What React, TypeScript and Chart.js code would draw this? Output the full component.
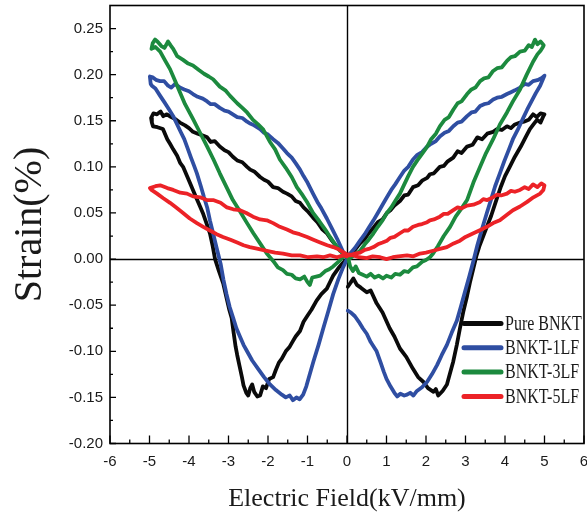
import React, { useEffect, useRef } from "react";
import { Chart, registerables } from "chart.js";

Chart.register(...registerables);

const xTickValues = [-6, -5, -4, -3, -2, -1, 0, 1, 2, 3, 4, 5, 6];
const yTickValues = [-0.2, -0.15, -0.1, -0.05, 0, 0.05, 0.1, 0.15, 0.2, 0.25];
const seriesLabels = ["Pure BNKT", "BNKT-1LF", "BNKT-3LF", "BNKT-5LF"];
const seriesColors = ["#0a0a0a", "#2f4ea2", "#1c8a3e", "#ec2227"];

// [E (kV/mm), Strain (%)]
const pureBNKT: [number, number][] = [
  [0.02, -0.03], [0.1, -0.025], [0.16, -0.021], [0.25, -0.028], [0.35, -0.031], [0.5, -0.036], [0.6, -0.034], [0.75, -0.048],
  [0.9, -0.058], [1.08, -0.075], [1.2, -0.084], [1.34, -0.097], [1.5, -0.106], [1.67, -0.119], [1.8, -0.128], [1.93, -0.133],
  [2.05, -0.14], [2.19, -0.144], [2.25, -0.141], [2.31, -0.148], [2.42, -0.143], [2.53, -0.136], [2.62, -0.122], [2.69, -0.111],
  [2.78, -0.093], [2.86, -0.075], [2.95, -0.056], [3.04, -0.04], [3.12, -0.024], [3.2, -0.01], [3.28, 0.004], [3.36, 0.015],
  [3.45, 0.025], [3.55, 0.036], [3.65, 0.047], [3.78, 0.064], [3.9, 0.079], [4.0, 0.09], [4.12, 0.1], [4.25, 0.111],
  [4.4, 0.122], [4.52, 0.132], [4.63, 0.141], [4.72, 0.146], [4.81, 0.151], [4.9, 0.148], [4.97, 0.155], [5.0, 0.157],
  [4.9, 0.158], [4.8, 0.154], [4.71, 0.157], [4.6, 0.151], [4.48, 0.149], [4.38, 0.148], [4.25, 0.146], [4.15, 0.142],
  [4.05, 0.144], [3.92, 0.14], [3.8, 0.141], [3.7, 0.138], [3.55, 0.136], [3.42, 0.13], [3.3, 0.132], [3.18, 0.124],
  [3.04, 0.122], [2.9, 0.115], [2.8, 0.117], [2.69, 0.11], [2.55, 0.106], [2.45, 0.101], [2.35, 0.1], [2.2, 0.093],
  [2.1, 0.092], [2.03, 0.088], [1.9, 0.085], [1.8, 0.08], [1.67, 0.078], [1.55, 0.07], [1.45, 0.069], [1.34, 0.063],
  [1.2, 0.058], [1.1, 0.053], [1.01, 0.05], [0.9, 0.043], [0.78, 0.04], [0.67, 0.034], [0.55, 0.028], [0.45, 0.022],
  [0.33, 0.017], [0.2, 0.01], [0.08, 0.005], [0.0, 0.004],
  [-0.1, 0.006], [-0.25, 0.013], [-0.38, 0.02], [-0.51, 0.028], [-0.62, 0.032], [-0.75, 0.04], [-0.86, 0.045], [-1.0, 0.052],
  [-1.1, 0.056], [-1.19, 0.061], [-1.3, 0.063], [-1.4, 0.068], [-1.52, 0.071], [-1.62, 0.073], [-1.75, 0.077], [-1.87, 0.078],
  [-2.0, 0.084], [-2.1, 0.086], [-2.2, 0.089], [-2.35, 0.095], [-2.45, 0.097], [-2.53, 0.1], [-2.65, 0.105], [-2.78, 0.107],
  [-2.89, 0.111], [-3.0, 0.116], [-3.1, 0.118], [-3.22, 0.122], [-3.35, 0.128], [-3.45, 0.127], [-3.54, 0.132], [-3.65, 0.134],
  [-3.78, 0.136], [-3.9, 0.138], [-4.0, 0.142], [-4.1, 0.145], [-4.23, 0.148], [-4.35, 0.152], [-4.45, 0.154], [-4.56, 0.157],
  [-4.65, 0.155], [-4.72, 0.16], [-4.81, 0.157], [-4.9, 0.158], [-4.96, 0.153], [-4.94, 0.148],
  [-4.91, 0.144], [-4.8, 0.143], [-4.66, 0.141], [-4.55, 0.13], [-4.48, 0.125], [-4.4, 0.119], [-4.3, 0.112], [-4.22, 0.104],
  [-4.15, 0.1], [-4.05, 0.09], [-3.98, 0.083], [-3.9, 0.075], [-3.8, 0.065], [-3.72, 0.057], [-3.65, 0.05], [-3.55, 0.038],
  [-3.47, 0.028], [-3.4, 0.014], [-3.34, 0.0], [-3.25, -0.012], [-3.13, -0.027], [-3.05, -0.042], [-2.98, -0.055], [-2.92, -0.064],
  [-2.87, -0.08], [-2.82, -0.095], [-2.78, -0.104], [-2.72, -0.116], [-2.66, -0.128], [-2.62, -0.137], [-2.55, -0.145], [-2.5, -0.148],
  [-2.45, -0.14], [-2.4, -0.136], [-2.35, -0.144], [-2.27, -0.149], [-2.2, -0.148], [-2.13, -0.138], [-2.05, -0.14], [-1.97, -0.13],
  [-1.87, -0.128], [-1.8, -0.12], [-1.72, -0.112], [-1.65, -0.108], [-1.55, -0.1], [-1.45, -0.095], [-1.37, -0.089], [-1.3, -0.084],
  [-1.19, -0.078], [-1.1, -0.068], [-1.01, -0.062], [-0.9, -0.055], [-0.77, -0.045], [-0.65, -0.038], [-0.51, -0.032], [-0.42, -0.024],
  [-0.35, -0.018], [-0.22, -0.01], [-0.1, -0.004], [0.0, 0.0],
];

const bnkt1LF: [number, number][] = [
  [0.02, -0.056], [0.1, -0.058], [0.2, -0.062], [0.3, -0.068], [0.4, -0.075], [0.5, -0.081], [0.6, -0.09], [0.75, -0.1],
  [0.85, -0.112], [0.93, -0.122], [1.0, -0.13], [1.1, -0.138], [1.2, -0.145], [1.27, -0.149], [1.35, -0.146], [1.45, -0.148],
  [1.52, -0.147], [1.6, -0.145], [1.68, -0.148], [1.77, -0.143], [1.9, -0.139], [2.03, -0.133], [2.15, -0.125], [2.28, -0.115],
  [2.4, -0.104], [2.53, -0.093], [2.65, -0.08], [2.78, -0.067], [2.88, -0.052], [2.99, -0.035], [3.1, -0.018], [3.2, -0.002],
  [3.3, 0.015], [3.42, 0.033], [3.54, 0.05], [3.65, 0.065], [3.75, 0.079], [3.87, 0.093], [3.98, 0.106], [4.1, 0.119],
  [4.2, 0.13], [4.32, 0.14], [4.45, 0.152], [4.56, 0.162], [4.67, 0.171], [4.78, 0.18], [4.89, 0.188], [4.96, 0.195], [5.0, 0.199],
  [4.92, 0.196], [4.82, 0.194], [4.71, 0.193], [4.6, 0.189], [4.5, 0.19], [4.38, 0.186], [4.25, 0.183], [4.15, 0.181],
  [4.05, 0.179], [3.92, 0.176], [3.8, 0.175], [3.7, 0.173], [3.58, 0.169], [3.47, 0.168], [3.37, 0.166], [3.25, 0.16],
  [3.15, 0.159], [3.04, 0.155], [2.9, 0.149], [2.8, 0.148], [2.69, 0.144], [2.58, 0.139], [2.47, 0.137], [2.35, 0.133],
  [2.25, 0.128], [2.13, 0.125], [2.03, 0.122], [1.9, 0.116], [1.78, 0.113], [1.67, 0.108], [1.55, 0.1], [1.45, 0.096],
  [1.34, 0.089], [1.22, 0.081], [1.12, 0.075], [1.01, 0.067], [0.9, 0.059], [0.78, 0.05], [0.67, 0.042], [0.55, 0.034],
  [0.45, 0.027], [0.33, 0.02], [0.2, 0.012], [0.08, 0.006], [0.0, 0.003],
  [-0.1, 0.008], [-0.25, 0.022], [-0.38, 0.033], [-0.51, 0.044], [-0.65, 0.055], [-0.75, 0.062], [-0.86, 0.071], [-1.0, 0.083],
  [-1.1, 0.09], [-1.19, 0.097], [-1.3, 0.104], [-1.4, 0.11], [-1.52, 0.115], [-1.62, 0.12], [-1.75, 0.126], [-1.87, 0.13],
  [-2.0, 0.135], [-2.1, 0.137], [-2.2, 0.141], [-2.35, 0.145], [-2.45, 0.147], [-2.53, 0.149], [-2.65, 0.153], [-2.78, 0.154],
  [-2.89, 0.157], [-3.0, 0.16], [-3.1, 0.161], [-3.22, 0.164], [-3.35, 0.168], [-3.45, 0.168], [-3.54, 0.171], [-3.65, 0.174],
  [-3.78, 0.176], [-3.9, 0.179], [-4.0, 0.182], [-4.12, 0.184], [-4.23, 0.186], [-4.35, 0.19], [-4.45, 0.186], [-4.53, 0.188],
  [-4.63, 0.193], [-4.73, 0.193], [-4.82, 0.194], [-4.92, 0.197], [-4.99, 0.198], [-4.97, 0.19],
  [-4.94, 0.188], [-4.85, 0.185], [-4.73, 0.177], [-4.62, 0.17], [-4.5, 0.162], [-4.4, 0.155], [-4.3, 0.146], [-4.2, 0.137],
  [-4.12, 0.13], [-4.05, 0.122], [-3.95, 0.11], [-3.87, 0.101], [-3.8, 0.093], [-3.7, 0.079], [-3.62, 0.067], [-3.54, 0.056],
  [-3.47, 0.042], [-3.39, 0.028], [-3.3, 0.012], [-3.2, -0.005], [-3.13, -0.022], [-3.05, -0.038], [-2.97, -0.052], [-2.88, -0.064],
  [-2.8, -0.075], [-2.7, -0.085], [-2.62, -0.093], [-2.53, -0.1], [-2.4, -0.11], [-2.25, -0.119], [-2.1, -0.128], [-1.95, -0.136],
  [-1.8, -0.142], [-1.65, -0.147], [-1.55, -0.15], [-1.45, -0.148], [-1.37, -0.153], [-1.28, -0.15], [-1.2, -0.152], [-1.11, -0.147],
  [-1.03, -0.138], [-0.95, -0.126], [-0.85, -0.111], [-0.72, -0.093], [-0.6, -0.075], [-0.47, -0.056], [-0.35, -0.038], [-0.22, -0.022],
  [-0.1, -0.009], [0.0, 0.0],
];

const bnkt3LF: [number, number][] = [
  [0.02, 0.003], [0.08, -0.008], [0.15, -0.013], [0.22, -0.008], [0.3, -0.015], [0.4, -0.017], [0.5, -0.019], [0.6, -0.016],
  [0.7, -0.02], [0.8, -0.018], [0.91, -0.021], [1.0, -0.018], [1.12, -0.02], [1.22, -0.016], [1.34, -0.017], [1.45, -0.013],
  [1.55, -0.014], [1.67, -0.009], [1.77, -0.008], [1.9, -0.003], [2.0, -0.001], [2.1, 0.002], [2.18, 0.006], [2.3, 0.014],
  [2.45, 0.025], [2.61, 0.035], [2.75, 0.046], [2.9, 0.055], [3.04, 0.064], [3.2, 0.083], [3.37, 0.1], [3.52, 0.115],
  [3.7, 0.13], [3.87, 0.146], [4.05, 0.159], [4.2, 0.171], [4.38, 0.184], [4.55, 0.2], [4.71, 0.214], [4.82, 0.222],
  [4.9, 0.226], [4.96, 0.23], [4.98, 0.232],
  [4.9, 0.236], [4.82, 0.233], [4.76, 0.238], [4.68, 0.23], [4.6, 0.232], [4.5, 0.226], [4.38, 0.225], [4.25, 0.22],
  [4.15, 0.219], [4.05, 0.215], [3.92, 0.208], [3.8, 0.207], [3.7, 0.204], [3.58, 0.197], [3.47, 0.196], [3.37, 0.193],
  [3.25, 0.186], [3.15, 0.184], [3.04, 0.179], [2.9, 0.171], [2.8, 0.169], [2.69, 0.162], [2.58, 0.154], [2.47, 0.151],
  [2.35, 0.144], [2.25, 0.136], [2.13, 0.13], [2.03, 0.122], [1.9, 0.114], [1.78, 0.107], [1.67, 0.1], [1.55, 0.09],
  [1.45, 0.081], [1.34, 0.071], [1.22, 0.063], [1.12, 0.056], [1.01, 0.05], [0.9, 0.042], [0.78, 0.035], [0.67, 0.028],
  [0.55, 0.021], [0.45, 0.016], [0.33, 0.009], [0.2, 0.005], [0.08, 0.001], [0.0, 0.003],
  [-0.18, 0.009], [-0.3, 0.016], [-0.43, 0.024], [-0.55, 0.032], [-0.7, 0.041], [-0.86, 0.05], [-1.0, 0.061], [-1.12, 0.069],
  [-1.27, 0.078], [-1.4, 0.089], [-1.55, 0.099], [-1.7, 0.108], [-1.82, 0.119], [-1.95, 0.127], [-2.05, 0.135], [-2.13, 0.141],
  [-2.25, 0.146], [-2.38, 0.151], [-2.53, 0.159], [-2.65, 0.164], [-2.78, 0.169], [-2.96, 0.177], [-3.08, 0.183], [-3.22, 0.187],
  [-3.39, 0.195], [-3.5, 0.198], [-3.62, 0.201], [-3.75, 0.205], [-3.9, 0.21], [-4.02, 0.212], [-4.15, 0.216], [-4.3, 0.22],
  [-4.4, 0.228], [-4.47, 0.232], [-4.53, 0.236], [-4.62, 0.229], [-4.7, 0.231], [-4.8, 0.236], [-4.86, 0.238], [-4.92, 0.234],
  [-4.95, 0.228],
  [-4.85, 0.23], [-4.73, 0.225], [-4.6, 0.215], [-4.48, 0.206], [-4.35, 0.193], [-4.23, 0.181], [-4.1, 0.168], [-3.9, 0.152],
  [-3.72, 0.137], [-3.54, 0.122], [-3.38, 0.108], [-3.22, 0.093], [-3.05, 0.078], [-2.89, 0.064], [-2.7, 0.051], [-2.53, 0.039],
  [-2.37, 0.028], [-2.2, 0.017], [-2.03, 0.006], [-1.87, -0.002], [-1.75, -0.009], [-1.62, -0.012], [-1.52, -0.016], [-1.4, -0.017],
  [-1.3, -0.021], [-1.19, -0.022], [-1.08, -0.019], [-1.0, -0.025], [-0.94, -0.028], [-0.88, -0.02], [-0.78, -0.019], [-0.68, -0.018],
  [-0.55, -0.013], [-0.45, -0.011], [-0.35, -0.008], [-0.22, -0.003], [-0.1, 0.002], [0.0, 0.004],
];

const bnkt5LF: [number, number][] = [
  [0.05, 0.005], [0.16, 0.004], [0.3, 0.002], [0.5, 0.001], [0.65, 0.003], [0.84, 0.002], [1.0, 0.0], [1.16, 0.002],
  [1.3, 0.003], [1.52, 0.004], [1.68, 0.003], [1.85, 0.006], [2.0, 0.007], [2.18, 0.009], [2.35, 0.011], [2.53, 0.013],
  [2.7, 0.017], [2.86, 0.02], [3.0, 0.024], [3.2, 0.028], [3.35, 0.031], [3.54, 0.035], [3.7, 0.039], [3.87, 0.042],
  [4.05, 0.048], [4.2, 0.053], [4.38, 0.057], [4.56, 0.062], [4.72, 0.067], [4.89, 0.071], [4.97, 0.075], [5.0, 0.08],
  [4.92, 0.082], [4.82, 0.078], [4.71, 0.081], [4.6, 0.076], [4.5, 0.078], [4.38, 0.075], [4.25, 0.073], [4.15, 0.074],
  [4.05, 0.071], [3.9, 0.069], [3.8, 0.07], [3.7, 0.067], [3.55, 0.064], [3.45, 0.065], [3.37, 0.062], [3.2, 0.059],
  [3.04, 0.058], [2.9, 0.055], [2.8, 0.056], [2.69, 0.053], [2.55, 0.049], [2.45, 0.049], [2.35, 0.046], [2.2, 0.043],
  [2.1, 0.042], [2.03, 0.04], [1.9, 0.038], [1.8, 0.037], [1.67, 0.035], [1.55, 0.031], [1.45, 0.031], [1.34, 0.028],
  [1.2, 0.024], [1.1, 0.023], [1.01, 0.02], [0.9, 0.018], [0.78, 0.016], [0.67, 0.013], [0.55, 0.011], [0.45, 0.01],
  [0.33, 0.007], [0.2, 0.006], [0.08, 0.004], [0.0, 0.005],
  [-0.12, 0.008], [-0.23, 0.011], [-0.35, 0.013], [-0.5, 0.015], [-0.68, 0.018], [-0.85, 0.021], [-1.01, 0.024], [-1.2, 0.027],
  [-1.37, 0.029], [-1.52, 0.032], [-1.7, 0.035], [-1.87, 0.039], [-2.03, 0.042], [-2.2, 0.043], [-2.38, 0.046], [-2.55, 0.05],
  [-2.71, 0.053], [-2.88, 0.054], [-3.04, 0.056], [-3.2, 0.061], [-3.39, 0.064], [-3.55, 0.064], [-3.72, 0.067], [-3.9, 0.068],
  [-4.05, 0.071], [-4.22, 0.072], [-4.4, 0.075], [-4.55, 0.077], [-4.73, 0.08], [-4.85, 0.079], [-4.99, 0.077],
  [-4.95, 0.075], [-4.81, 0.071], [-4.65, 0.066], [-4.48, 0.061], [-4.3, 0.055], [-4.15, 0.05], [-3.98, 0.044], [-3.8, 0.039],
  [-3.64, 0.035], [-3.47, 0.031], [-3.3, 0.027], [-3.14, 0.024], [-2.95, 0.021], [-2.78, 0.018], [-2.62, 0.015], [-2.46, 0.013],
  [-2.25, 0.011], [-2.03, 0.009], [-1.82, 0.007], [-1.62, 0.006], [-1.4, 0.004], [-1.19, 0.004], [-0.98, 0.002], [-0.76, 0.003],
  [-0.6, 0.002], [-0.43, 0.004], [-0.25, 0.002], [-0.1, 0.004], [0.0, 0.003],
];

const seriesData = [pureBNKT, bnkt1LF, bnkt3LF, bnkt5LF];
const drawOrder = [3, 2, 1, 0];

const framePlugin = {
  id: "frameTicks",
  beforeDatasetsDraw(chart: any) {
    const { ctx, chartArea } = chart;
    const xs = chart.scales.x;
    const ys = chart.scales.y;
    ctx.save();
    ctx.strokeStyle = "#000";
    ctx.lineWidth = 1.4;
    const x0 = Math.round(xs.getPixelForValue(0)) + 0.5;
    const y0 = Math.round(ys.getPixelForValue(0)) + 0.5;
    ctx.beginPath();
    ctx.moveTo(x0, chartArea.top);
    ctx.lineTo(x0, chartArea.bottom);
    ctx.moveTo(chartArea.left, y0);
    ctx.lineTo(chartArea.right, y0);
    ctx.stroke();
    ctx.restore();
  },
  afterDatasetsDraw(chart: any) {
    const { ctx, chartArea } = chart;
    const xs = chart.scales.x;
    const ys = chart.scales.y;
    const { left, right, top, bottom } = chartArea;
    ctx.save();
    ctx.strokeStyle = "#000";
    ctx.lineWidth = 1.6;
    ctx.strokeRect(left, top, right - left, bottom - top);
    ctx.lineWidth = 1.3;
    ctx.beginPath();
    const yt = ys.ticks.map((t: any) => t.value);
    yt.forEach((v: number, i: number) => {
      const p = ys.getPixelForValue(v);
      ctx.moveTo(left, p);
      ctx.lineTo(left + 6, p);
      const nv = i < yt.length - 1 ? (v + yt[i + 1]) / 2 : v + (v - yt[i - 1]) / 2;
      const np = ys.getPixelForValue(nv);
      if (np > top + 2) {
        ctx.moveTo(left, np);
        ctx.lineTo(left + 3, np);
      }
    });
    const xt = xs.ticks.map((t: any) => t.value);
    xt.forEach((v: number, i: number) => {
      const p = xs.getPixelForValue(v);
      ctx.moveTo(p, bottom);
      ctx.lineTo(p, bottom - 8);
      if (i < xt.length - 1) {
        const np = xs.getPixelForValue((v + xt[i + 1]) / 2);
        ctx.moveTo(np, bottom);
        ctx.lineTo(np, bottom - 4);
      }
    });
    ctx.stroke();

    // legend
    const ds = chart.data.datasets;
    const lx = right - 120;
    const rowTop = bottom - 120;
    ds.forEach((d: any, i: number) => {
      const yy = rowTop + i * 24.3;
      ctx.strokeStyle = d.borderColor;
      ctx.lineWidth = 5;
      ctx.lineCap = "round";
      ctx.beginPath();
      ctx.moveTo(lx, yy);
      ctx.lineTo(lx + 37, yy);
      ctx.stroke();
      ctx.save();
      ctx.translate(lx + 41, yy);
      ctx.scale(0.8, 1);
      ctx.fillStyle = "#1a1a1a";
      ctx.font = '20px "Liberation Serif", "Times New Roman", serif';
      ctx.textBaseline = "middle";
      ctx.textAlign = "left";
      ctx.fillText(d.label, 0, 1);
      ctx.restore();
    });
    ctx.restore();
  },
};

export default function App() {
  const canvasRef = useRef<HTMLCanvasElement | null>(null);

  useEffect(() => {
    document.body.style.margin = "0";
    const canvas = canvasRef.current;
    if (!canvas) return;
    const chart = new Chart(canvas, {
      type: "scatter",
      data: {
        datasets: seriesData.map((pts, i) => ({
          label: seriesLabels[i],
          data: pts.map(([x, y]) => ({ x, y })),
          borderColor: seriesColors[i],
          backgroundColor: seriesColors[i],
          showLine: true,
          pointRadius: 0,
          borderWidth: 3.8,
          tension: 0,
          fill: false,
          order: drawOrder[i],
          borderJoinStyle: "round" as const,
          borderCapStyle: "round" as const,
        })),
      },
      options: {
        animation: false,
        responsive: false,
        maintainAspectRatio: false,
        layout: { padding: { left: 0, right: 3, top: 5.5, bottom: 0 } },
        plugins: {
          legend: { display: false },
          tooltip: { enabled: false },
        },
        scales: {
          x: {
            type: "linear",
            min: -6,
            max: 6,
            afterBuildTicks: (s: any) => {
              s.ticks = xTickValues.map((v) => ({ value: v }));
            },
            afterFit: (s: any) => {
              s.height = 81.5;
              s.paddingLeft = 0;
              s.paddingRight = 0;
            },
            grid: { display: false, drawTicks: false },
            border: { display: false },
            ticks: {
              padding: 9,
              autoSkip: false,
              maxRotation: 0,
              color: "#1a1a1a",
              font: { family: '"Liberation Sans", Arial, sans-serif', size: 15 },
              callback: (v: any) => String(v),
            },
            title: {
              display: true,
              text: "Electric Field(kV/mm)",
              color: "#1a1a1a",
              font: { family: '"Liberation Serif", "Times New Roman", serif', size: 26 },
              padding: { top: 0, bottom: 10 },
            },
          },
          y: {
            type: "linear",
            min: -0.2,
            max: 0.275,
            afterBuildTicks: (s: any) => {
              s.ticks = yTickValues.map((v) => ({ value: v }));
            },
            afterFit: (s: any) => {
              s.width = 110;
              s.paddingTop = 0;
              s.paddingBottom = 0;
            },
            grid: { display: false, drawTicks: false },
            border: { display: false },
            ticks: {
              padding: 7,
              autoSkip: false,
              color: "#1a1a1a",
              font: { family: '"Liberation Sans", Arial, sans-serif', size: 15 },
              callback: (v: any) => Number(v).toFixed(2),
            },
            title: {
              display: true,
              text: "Strain(%)",
              color: "#1a1a1a",
              font: { family: '"Liberation Serif", "Times New Roman", serif', size: 40 },
              padding: { top: 6, bottom: 0 },
            },
          },
        },
      },
      plugins: [framePlugin],
    } as any);
    return () => chart.destroy();
  }, []);

  return (
    <div style={{ position: "absolute", left: 0, top: 0, width: 587, height: 525, background: "#fff" }}>
      <canvas ref={canvasRef} width={587} height={525} style={{ display: "block", width: 587, height: 525 }} />
    </div>
  );
}
